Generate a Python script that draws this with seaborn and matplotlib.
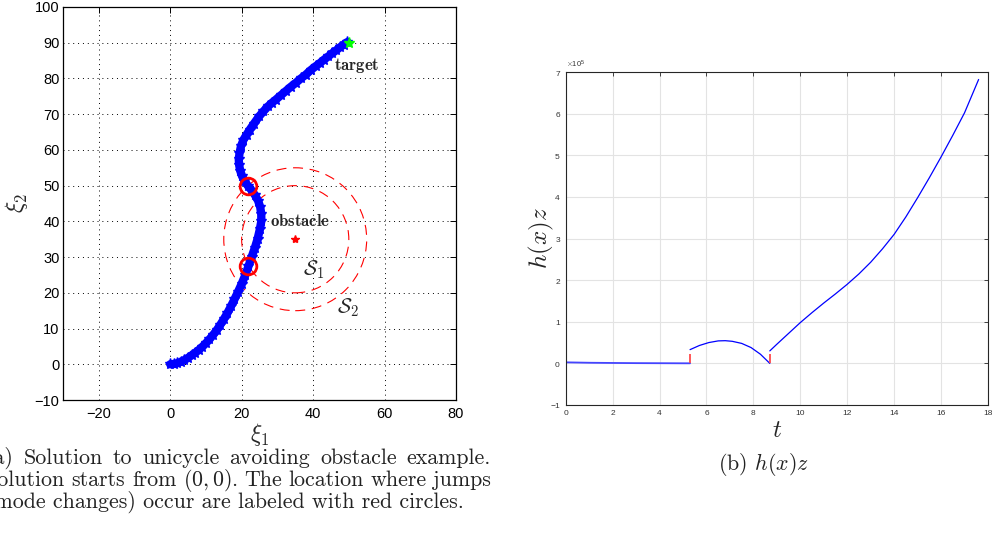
import matplotlib
matplotlib.use('Agg')
import numpy as np
import pandas as pd
import seaborn as sns
import matplotlib.pyplot as plt
from matplotlib.patches import Circle
from matplotlib.ticker import ScalarFormatter

# ---------------- data ----------------
# (a) unicycle trajectory
xi1 = [0, 1, 2, 3, 4, 5, 6, 7, 8, 9, 10, 11, 12, 13, 14, 15, 16, 17, 18, 19,
       20, 21, 21.9, 22.8, 23.7, 24.5, 25.1, 25.5, 25.5, 25.2, 24.6, 23.7,
       22.7, 21.7, 20.8, 20.1, 19.6, 19.3, 19.2, 19.4, 19.8, 20.5, 21.4, 22.3,
       23.4, 24.9, 26.1, 27.4, 28.5, 29.6, 31.0, 32.4, 33.8, 35.2, 36.6, 38.0,
       39.3, 40.7, 41.9, 43.1, 44.3, 45.4, 46.5, 47.5, 48.6, 49.6]
xi2 = [0, 0.1, 0.3, 0.7, 1.2, 1.8, 2.5, 3.2, 4.0, 4.9, 5.9, 7.0, 8.2, 9.5,
       11.0, 12.6, 14.3, 16.2, 18.2, 20.3, 22.5, 24.9, 27.4, 30.0, 32.6, 35.2,
       37.8, 40.0, 42.0, 44.0, 45.8, 47.4, 48.8, 50.0, 51.3, 52.7, 54.2, 55.8,
       57.4, 59.0, 61.0, 62.8, 64.3, 65.7, 67.3, 69.4, 70.8, 72.2, 73.2, 74.1,
       75.3, 76.5, 77.7, 78.8, 80.0, 81.1, 82.3, 83.4, 84.3, 85.3, 86.2, 87.1,
       87.9, 88.7, 89.5, 90.2]
jump_xi1 = [21.9, 21.7]
jump_xi2 = [27.4, 50.0]
obstacle = (35, 35)
target = (50, 90)
set_radii = [15, 20]
xticks_a = [-20, 0, 20, 40, 60, 80]
yticks_a = [-10, 0, 10, 20, 30, 40, 50, 60, 70, 80, 90, 100]

# (b) h(x)z  (values in units of 1e5)
t1 = [0, 1, 2, 3, 4, 5, 5.3]
h1 = [0.025, 0.015, 0.01, 0.006, 0.004, 0.002, 0.002]
t2 = [5.3, 5.7, 6.1, 6.5, 6.8, 7.1, 7.5, 7.9, 8.3, 8.7]
h2 = [0.33, 0.43, 0.50, 0.54, 0.545, 0.53, 0.48, 0.38, 0.22, 0.0]
t3 = [8.7, 9.0, 9.5, 10, 10.5, 11, 11.5, 12, 12.5, 13, 13.5, 14, 14.5, 15,
      15.5, 16, 16.5, 17, 17.6]
h3 = [0.30, 0.46, 0.72, 0.98, 1.22, 1.45, 1.67, 1.90, 2.15, 2.43, 2.75, 3.10,
      3.52, 3.98, 4.46, 4.96, 5.48, 6.02, 6.82]
jump_t = [5.3, 8.7]
jump_h = [0.23, 0.22]
xticks_b = [0, 2, 4, 6, 8, 10, 12, 14, 16, 18]
yticks_b = [-1, 0, 1, 2, 3, 4, 5, 6, 7]
scale_b = 1e5

caption_a = ['(a) Solution to unicycle avoiding obstacle example.',
             r'Solution starts from $(0,0)$. The location where jumps',
             '(mode changes) occur are labeled with red circles.']
caption_b = r'(b) $h(x)z$'

# ---------------- style ----------------
sns.set_style('white')
plt.rcParams['font.family'] = ['Liberation Sans', 'DejaVu Sans']
plt.rcParams['mathtext.fontset'] = 'cm'
plt.rcParams['axes.unicode_minus'] = True

W, H = 994, 541
fig = plt.figure(figsize=(W / 100, H / 100), dpi=100)
fig.patch.set_facecolor('white')
ax1 = fig.add_axes([63 / W, 1 - 400 / H, 393 / W, 393 / H])
ax2 = fig.add_axes([565.7 / W, 1 - 405 / H, 422.3 / W, 333 / H])

# ---------------- (a) ----------------
ax1.set_xlim(-30, 80)
ax1.set_ylim(-10, 100)
ax1.set_xticks(xticks_a)
ax1.set_yticks(yticks_a)
ax1.grid(True, color='black', linestyle=(0, (1, 4)), linewidth=0.7)
ax1.set_axisbelow(True)

for r in set_radii:
    ax1.add_patch(Circle(obstacle, r, fill=False, edgecolor='red',
                         linestyle=(0, (9, 6)), linewidth=0.8, zorder=2))

traj = pd.DataFrame({'xi1': xi1, 'xi2': xi2})
sns.lineplot(data=traj, x='xi1', y='xi2', sort=False, estimator=None, ax=ax1,
             color='blue', lw=6, marker='*', markersize=8,
             markeredgecolor='blue', markeredgewidth=1.0, zorder=3)
ax1.plot(jump_xi1, jump_xi2, 'o', mfc='none', mec='red', ms=12, mew=2, zorder=4)
ax1.plot([obstacle[0]], [obstacle[1]], '*', color='red', ms=6, zorder=4)
ax1.plot([target[0]], [target[1]], '*', color='#00ff00', ms=8, zorder=4)

ax1.text(45.9, 83.5, r'$\mathbf{target}$', fontsize=12, ha='left', va='center')
ax1.text(27.9, 40.2, r'$\mathbf{obstacle}$', fontsize=12, ha='left', va='center')
ax1.text(37.3, 26.6, r'$\mathcal{S}_1$', fontsize=15, ha='left', va='center')
ax1.text(46.6, 15.7, r'$\mathcal{S}_2$', fontsize=15, ha='left', va='center')

ax1.tick_params(direction='in', length=4, width=0.7, top=True, right=True,
                labelsize=10.5, pad=5, colors='black')
ax1.tick_params(axis='y', pad=2.5)
for s in ax1.spines.values():
    s.set_color('black')
    s.set_linewidth(0.9)
ax1.set_xlabel(r'$\xi_1$', fontsize=17)
ax1.set_ylabel(r'$\xi_2$', fontsize=17)
ax1.xaxis.set_label_coords(0.5, -0.053)
ax1.yaxis.set_label_coords(-0.084, 0.5)

# ---------------- (b) ----------------
ax2.set_xlim(0, 18)
ax2.set_ylim(-1 * scale_b, 7 * scale_b)
ax2.set_xticks(xticks_b)
ax2.set_yticks([v * scale_b for v in yticks_b])
ax2.grid(True, color='#e3e3e3', linewidth=0.8, linestyle='-')
ax2.set_axisbelow(True)

d1 = pd.DataFrame({'t': t1, 'h': [v * scale_b for v in h1]})
d2 = pd.DataFrame({'t': t2, 'h': [v * scale_b for v in h2]})
d3 = pd.DataFrame({'t': t3, 'h': [v * scale_b for v in h3]})
sns.lineplot(data=d1, x='t', y='h', estimator=None, ax=ax2, color='#4444ff', lw=1.3)
sns.lineplot(data=d2, x='t', y='h', estimator=None, ax=ax2, color='blue', lw=0.9)
sns.lineplot(data=d3, x='t', y='h', estimator=None, ax=ax2, color='blue', lw=0.9)
ax2.vlines(jump_t, 0, [v * scale_b for v in jump_h], color='#ff4a4a', lw=1.3)

fmt = ScalarFormatter(useMathText=True)
fmt.set_powerlimits((-3, 3))
ax2.yaxis.set_major_formatter(fmt)
ax2.yaxis.get_offset_text().set_fontsize(5.5)
ax2.yaxis.get_offset_text().set_color('#333333')

ax2.tick_params(direction='in', length=3, width=0.6, top=True, right=True,
                labelsize=6, pad=3.5, colors='#262626', labelcolor='#333333')
for s in ax2.spines.values():
    s.set_color('#262626')
    s.set_linewidth(0.8)
ax2.set_xlabel(r'$t$', fontsize=18)
ax2.set_ylabel(r'$h(x)z$', fontsize=18)
ax2.xaxis.set_label_coords(0.5, -0.039)
ax2.yaxis.set_label_coords(-0.022, 0.5)

# ---------------- captions ----------------
cap = dict(family='cmr10', fontsize=15.8, color='#222222', va='baseline')
renderer = fig.canvas.get_renderer()
left_px, right_px = -14, 491


def justified(line, yb):
    words = line.split(' ')
    texts = [fig.text(0, 1 - yb / H, w, ha='left', **cap) for w in words]
    widths = [t.get_window_extent(renderer).width for t in texts]
    gap = (right_px - left_px - sum(widths)) / (len(words) - 1)
    x = left_px
    for t, w in zip(texts, widths):
        t.set_x(x / W)
        x += w + gap


justified(caption_a[0], 464)
justified(caption_a[1], 486)
fig.text(left_px / W, 1 - 508 / H, caption_a[2], ha='left', **cap)
fig.text(763 / W, 1 - 470 / H, caption_b, ha='center', **cap)

fig.savefig('out.png', dpi=100, facecolor='white')
